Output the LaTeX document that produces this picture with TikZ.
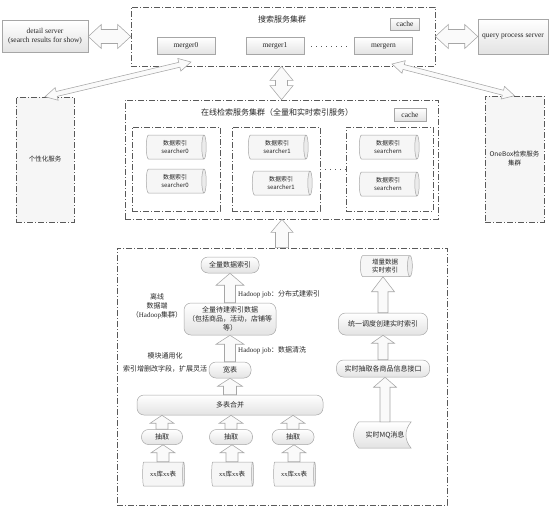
\documentclass[tikz,border=0pt]{standalone}
\usepackage{fontspec}
\setmainfont{Liberation Serif}
\newfontfamily\cjk{Noto Sans CJK SC}
\usetikzlibrary{calc,shapes.geometric,backgrounds}

% single block arrow: #1 head length, #2 head half width, #3 shaft half width, #4 from, #5 tip
\newcommand\blockup[5]{%
  \path ($(#5)!#1!(#4)$) coordinate (hb);
  \draw[barrow] ($(#4)!#3!90:(#5)$) -- ($(hb)!#3!-90:(#4)$) -- ($(hb)!#2!-90:(#4)$) -- (#5)
    -- ($(hb)!#2!90:(#4)$) -- ($(hb)!#3!90:(#4)$) -- ($(#4)!#3!-90:(#5)$) -- cycle;}
% double block arrow
\newcommand\blockboth[5]{%
  \path ($(#4)!#1!(#5)$) coordinate (ha);
  \path ($(#5)!#1!(#4)$) coordinate (hb);
  \draw[barrow] (#4) -- ($(ha)!#2!90:(#5)$) -- ($(ha)!#3!90:(#5)$) -- ($(hb)!#3!-90:(#4)$)
    -- ($(hb)!#2!-90:(#4)$) -- (#5) -- ($(hb)!#2!90:(#4)$) -- ($(hb)!#3!90:(#4)$)
    -- ($(ha)!#3!-90:(#5)$) -- ($(ha)!#2!-90:(#5)$) -- cycle;}

\tikzset{
  base/.style={inner sep=0pt, align=center, text=black!85},
  lbox/.style={base, draw=gray!70, top color=white, bottom color=gray!22, line width=0.5pt,
    font=\fontsize{7.5}{9}\selectfont},
  rbox/.style={lbox, rounded corners=7pt, font=\cjk\fontsize{7}{9}\selectfont},
  clus/.style={base, draw=black!65, line width=0.6pt, dash pattern=on 6pt off 2pt on 1pt off 2pt},
  cyl/.style={base, cylinder, shape aspect=0.35, draw=gray!70, line width=0.5pt,
    cylinder uses custom fill, cylinder body fill=gray!7, cylinder end fill=gray!16,
    font=\cjk\fontsize{6}{7.5}\selectfont},
  barrow/.style={draw=gray!70, fill=gray!4, line width=0.55pt, line join=miter},
  dotsep/.style={black!65, line width=0.7pt, dash pattern=on 1pt off 4pt},
  lbl/.style={base, font=\cjk\fontsize{7}{9}\selectfont},
  ttl/.style={base, font=\cjk\fontsize{8}{10}\selectfont}
}

\begin{document}
\begin{tikzpicture}[x=1pt,y=-1pt]
\useasboundingbox (0,0) rectangle (553,517);

% ---------------- top: search service cluster
\node[clus, minimum width=304pt, minimum height=59pt] (srch) at (283,36.5) {};
\node[ttl] (srchtitle) at (282,19) {搜索服务集群};
\node[lbox, minimum width=29pt, minimum height=12pt] (cacheA) at (405,24) {cache};
\node[lbox, minimum width=58pt, minimum height=17pt] (m0) at (186,46) {merger0};
\node[lbox, minimum width=58pt, minimum height=17pt] (m1) at (275,46) {merger1};
\node[lbox, minimum width=58pt, minimum height=17pt] (mn) at (383.5,46) {mergern};
\draw[dotsep, shorten <=7pt, shorten >=6pt] (m1) -- (mn);

\node[lbox, minimum width=86pt, minimum height=32pt] (detail) at (45,36.5) {detail server\\(search results for show)};
\node[lbox, minimum width=70pt, minimum height=35pt] (query) at (513,36.5) {query process server};

% ---------------- side boxes
\node[clus, fill=gray!7, minimum width=58pt, minimum height=125pt, font=\cjk\fontsize{6.5}{8}\selectfont] (gx) at (45,159.5) {个性化服务};
\node[clus, fill=gray!7, minimum width=59pt, minimum height=126pt, font=\cjk\fontsize{6.5}{9}\selectfont] (onebox) at (514.5,159) {OneBox检索服务\\集群};

% ---------------- online cluster
\node[clus, minimum width=313pt, minimum height=119pt] (online) at (281.5,159.5) {};
\node[ttl] (onltitle) at (277,112) {在线检索服务集群（全量和实时索引服务）};
\node[lbox, minimum width=32pt, minimum height=13pt] (cacheB) at (410,114.5) {cache};
\node[clus, minimum width=88pt, minimum height=84pt] (g0) at (176,169) {};
\node[clus, minimum width=88pt, minimum height=84pt] (g1) at (276,169) {};
\node[clus, minimum width=87pt, minimum height=84pt] (gn) at (389.5,169) {};
\draw[dotsep] (g1.east) -- (gn.west);

\node[cyl, minimum height=60pt, minimum width=24pt] (s0a) at (175,147) {数据索引\\searcher0};
\node[cyl, minimum height=60pt, minimum width=24pt] (s0b) at (175,181) {数据索引\\searcher0};
\node[cyl, minimum height=60pt, minimum width=24pt] (s1a) at (277,147) {数据索引\\searcher1};
\node[cyl, minimum height=60pt, minimum width=24pt] (s1b) at (281,183) {数据索引\\searcher1};
\node[cyl, minimum height=60pt, minimum width=24pt] (sna) at (388,147) {数据索引\\searchern};
\node[cyl, minimum height=60pt, minimum width=24pt] (snb) at (388,184) {数据索引\\searchern};

% ---------------- offline data
\node[clus, minimum width=330pt, minimum height=257pt] (offline) at (282,376.5) {};
\node[lbl] (lx) at (157,306) {离线\\数据端\\（{\rmfamily Hadoop}集群）};
\node[lbl] (mk) at (165,362) {模块通用化\\[4pt]索引增删改字段，扩展灵活};

\node[rbox, minimum width=58pt, minimum height=16pt] (qlidx) at (230,265) {全量数据索引};
\node[rbox, minimum width=92pt, minimum height=32pt] (qldata) at (230,319) {全量待建索引数据\\（包括商品，活动，店铺等\\等）};
\node[rbox, minimum width=42pt, minimum height=16pt] (kb) at (230,370) {宽表};
\node[rbox, minimum width=186pt, minimum height=20pt] (dbhb) at (230,405) {多表合并};
\node[rbox, minimum width=41pt, minimum height=15pt] (cq1) at (162,437) {抽取};
\node[rbox, minimum width=43pt, minimum height=15pt] (cq2) at (231,437) {抽取};
\node[rbox, minimum width=42pt, minimum height=15pt] (cq3) at (293,437) {抽取};
\node[cyl, minimum height=42pt, minimum width=24pt, font=\fontsize{6.5}{8}\selectfont] (db1) at (163,474) {xx{\cjk 库}xx{\cjk 表}};
\node[cyl, minimum height=42pt, minimum width=24pt, font=\fontsize{6.5}{8}\selectfont] (db2) at (232,474) {xx{\cjk 库}xx{\cjk 表}};
\node[cyl, minimum height=42pt, minimum width=24pt, font=\fontsize{6.5}{8}\selectfont] (db3) at (294,474) {xx{\cjk 库}xx{\cjk 表}};

\node[lbl, anchor=west] (hj1) at (238,294) {{\rmfamily Hadoop job}：分布式建索引};
\node[lbl, anchor=west] (hj2) at (238,350) {{\rmfamily Hadoop job}：数据清洗};

% right column
\node[cyl, minimum height=52pt, minimum width=21pt, font=\cjk\fontsize{6.5}{8}\selectfont] (zl) at (385,266) {增量数据\\实时索引};
\node[rbox, minimum width=89pt, minimum height=22pt] (ty) at (383,324) {统一调度创建实时索引};
\node[rbox, minimum width=93pt, minimum height=17pt] (ss) at (383,368.5) {实时抽取各商品信息接口};
\node[base, minimum width=52pt, minimum height=26pt, font=\cjk\fontsize{7}{9}\selectfont] (mq) at (385,435) {实时MQ消息};
\begin{scope}[on background layer]
\draw[draw=gray!70, line width=0.5pt, top color=white, bottom color=gray!22]
  (mq.north west) .. controls ($(mq.north west)+(-7,8)$) and ($(mq.south west)+(-7,-8)$) .. (mq.south west)
  -- (mq.south east) .. controls ($(mq.south east)+(-7,-8)$) and ($(mq.north east)+(-7,8)$) .. (mq.north east) -- cycle;
\end{scope}

% ---------------- block arrows
\blockboth{13pt}{12pt}{7pt}{detail.east}{srch.west}
\coordinate (qtip) at (srch.east |- query.west);
\blockboth{13pt}{12pt}{7pt}{qtip}{query.west}
\coordinate (vtop) at (online.north |- srch.south);
\blockboth{14pt}{11.5pt}{6pt}{vtop}{online.north}
\coordinate (m0tip) at (191,62);
\coordinate (mntip) at (392,64);
\blockboth{12pt}{6.5pt}{2.5pt}{gx.north}{m0tip}
\blockboth{12pt}{6.5pt}{2.5pt}{mntip}{onebox.north}
\coordinate (ontip) at (offline.north |- online.south);
\blockup{13pt}{11pt}{6.5pt}{offline.north}{ontip}

\blockup{12pt}{14pt}{5.5pt}{qldata.north}{qlidx.south}
\blockup{9pt}{14pt}{5.5pt}{kb.north}{qldata.south}
\blockup{8pt}{12.5pt}{6.5pt}{dbhb.north}{kb.south}
\coordinate (t1) at (cq1.north |- dbhb.south);
\coordinate (t2) at (cq2.north |- dbhb.south);
\coordinate (t3) at (cq3.north |- dbhb.south);
\blockup{8pt}{12pt}{6pt}{cq1.north}{t1}
\blockup{8pt}{12pt}{6pt}{cq2.north}{t2}
\blockup{8pt}{12pt}{6pt}{cq3.north}{t3}
\coordinate (u1) at (db1.north |- cq1.south);
\coordinate (u2) at (db2.north |- cq2.south);
\coordinate (u3) at (db3.north |- cq3.south);
\blockup{8pt}{12pt}{6pt}{db1.north}{u1}
\blockup{8pt}{12pt}{6pt}{db2.north}{u2}
\blockup{8pt}{12pt}{6pt}{db3.north}{u3}

\coordinate (r1) at (ty.north |- zl.south);
\blockup{15pt}{11.5pt}{5pt}{ty.north}{r1}
\blockup{8pt}{11.5pt}{5pt}{ss.north}{ty.south}
\coordinate (r3) at (mq.north |- ss.south);
\blockup{10pt}{11.5pt}{5pt}{mq.north}{r3}
\end{tikzpicture}
\end{document}
